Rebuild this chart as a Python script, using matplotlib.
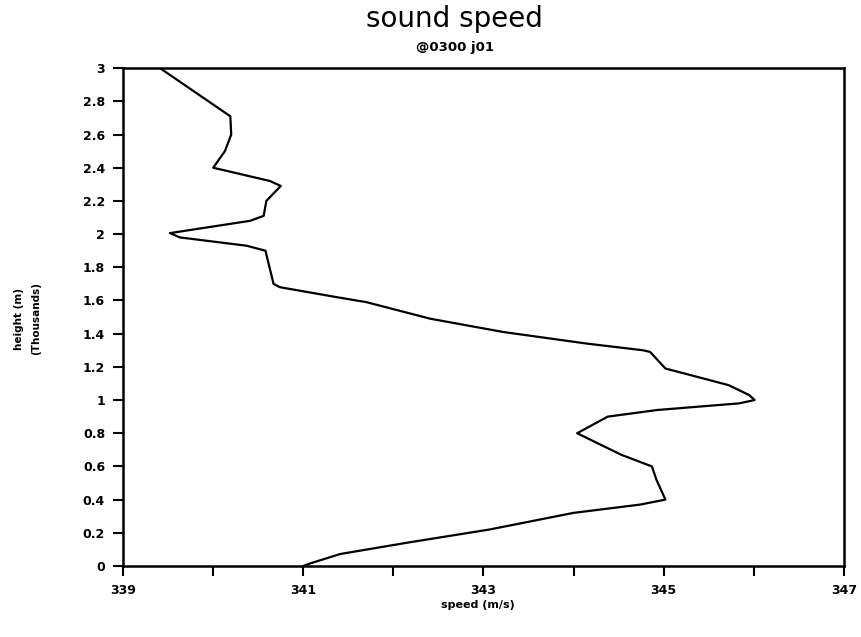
import matplotlib
matplotlib.use("Agg")
import matplotlib.pyplot as plt

# Sound speed profile: speed (m/s) against height (thousands of metres)
speed = [341.00, 341.08, 341.41, 342.15, 343.07, 344.00, 344.74, 345.02,
         344.92, 344.87, 344.53, 344.04, 344.38, 344.93, 345.84, 346.01,
         345.95, 345.72, 345.02, 344.85, 344.77, 344.15, 343.22, 342.41,
         341.70, 341.37, 340.74, 340.67, 340.58, 340.37, 339.63, 339.52,
         340.41, 340.56, 340.59, 340.75, 340.63, 340.00, 340.13, 340.20,
         340.19, 339.41]
height = [0.000, 0.016, 0.072, 0.14, 0.22, 0.32, 0.37, 0.40,
          0.52, 0.60, 0.67, 0.80, 0.90, 0.94, 0.98, 1.00,
          1.03, 1.09, 1.19, 1.29, 1.30, 1.34, 1.41, 1.49,
          1.59, 1.62, 1.68, 1.70, 1.90, 1.93, 1.98, 2.006,
          2.08, 2.11, 2.20, 2.29, 2.32, 2.40, 2.50, 2.60,
          2.71, 3.00]

x_major = [339, 341, 343, 345, 347]
x_minor = [340, 342, 344, 346]
y_ticks = [0, 0.2, 0.4, 0.6, 0.8, 1, 1.2, 1.4, 1.6, 1.8, 2, 2.2, 2.4, 2.6, 2.8, 3]
y_labels = ["0", "0.2", "0.4", "0.6", "0.8", "1", "1.2", "1.4", "1.6", "1.8",
            "2", "2.2", "2.4", "2.6", "2.8", "3"]

fig = plt.figure(figsize=(8.61, 6.37), dpi=100)
ax = fig.add_axes([0.143, 0.1115, 0.837, 0.7815])

ax.plot(speed, height, color="black", lw=1.6, solid_joinstyle="round")

ax.set_xlim(339, 347)
ax.set_ylim(0, 3)
ax.set_xticks(x_major)
ax.set_xticks(x_minor, minor=True)
ax.set_xticklabels([str(v) for v in x_major], fontsize=9, fontweight="bold",
                   family="DejaVu Sans Condensed")
ax.set_yticks(y_ticks)
ax.set_yticklabels(y_labels, fontsize=9, fontweight="bold", family="DejaVu Sans")

ax.tick_params(axis="both", which="both", direction="out", color="black",
               width=1.5)
ax.tick_params(axis="x", which="major", length=7, pad=6)
ax.tick_params(axis="x", which="minor", length=7)
ax.tick_params(axis="y", which="major", length=7, pad=6)

for side in ["left", "bottom", "top", "right"]:
    ax.spines[side].set_linewidth(1.8)
    ax.spines[side].set_color("black")

fig.text(0.528, 0.970, "sound speed", ha="center", va="center",
         fontsize=20, family="DejaVu Sans")
fig.text(0.528, 0.926, "@0300 j01", ha="center", va="center",
         fontsize=9.5, fontweight="bold", family="DejaVu Sans")

fig.text(0.555, 0.05, "speed (m/s)", ha="center", va="center",
         fontsize=8, fontweight="bold", family="DejaVu Sans")
fig.text(0.022, 0.50, "height (m)", ha="center", va="center", rotation=90,
         fontsize=7.5, fontweight="bold", family="DejaVu Sans")
fig.text(0.042, 0.50, "(Thousands)", ha="center", va="center", rotation=90,
         fontsize=7.5, fontweight="bold", family="DejaVu Sans")

fig.savefig("out.png", dpi=100)
